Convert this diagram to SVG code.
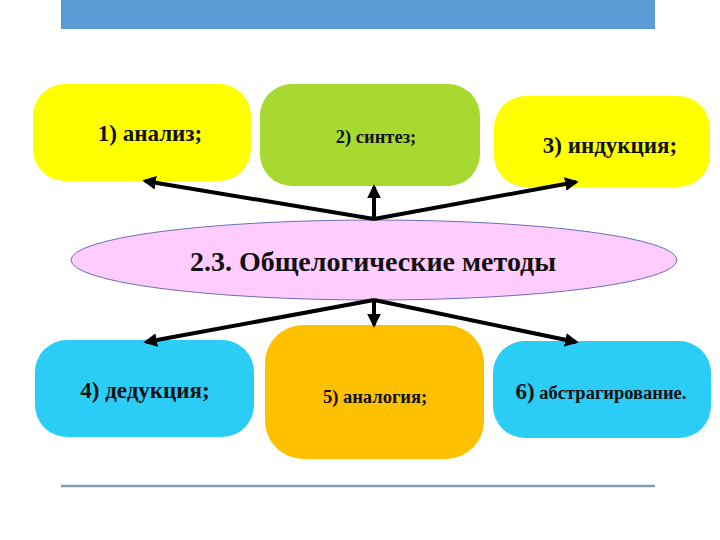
<svg xmlns="http://www.w3.org/2000/svg" width="720" height="540" viewBox="0 0 720 540">
<style>
text{font-weight:bold;fill:#111;text-anchor:middle}
.c{stroke:#000;stroke-width:4;fill:none}
</style>
<defs>
<marker id="ah" viewBox="0 0 10 10" refX="8" refY="5" markerWidth="3.4" markerHeight="3.4" orient="auto" markerUnits="strokeWidth">
<path d="M0,0 L10,5 L0,10 z" fill="#000"/>
</marker>
</defs>
<rect x="0" y="0" width="720" height="540" fill="#fff"/>
<rect x="61" y="0" width="594" height="29" fill="#5b9bd5"/>
<line x1="61" y1="486" x2="655" y2="486" stroke="#7f9db3" stroke-width="2.5"/>
<g font-family="'Liberation Serif', 'DejaVu Serif', serif">
<g id="n1"><rect x="33" y="84" width="218" height="97" rx="32" fill="#ffff00"/><text x="150" y="141" font-size="23">1) анализ;</text></g>
<g id="n2"><rect x="260" y="84" width="220" height="102" rx="32" fill="#a7d930"/><text x="376" y="143" font-size="18.5">2) синтез;</text></g>
<g id="n3"><rect x="494" y="96" width="216" height="91" rx="32" fill="#ffff00"/><text x="610" y="153" font-size="23">3) индукция;</text></g>
<g id="center"><ellipse cx="374" cy="260" rx="303" ry="40" fill="#ffccff" stroke="#6a6fb8" stroke-width="1"/><text x="373" y="271" font-size="28">2.3. Общелогические методы</text></g>
<g id="n4"><rect x="35" y="340" width="219" height="97" rx="32" fill="#2bccf5"/><text x="145" y="398" font-size="23">4) дедукция;</text></g>
<g id="n5"><rect x="265" y="325" width="219" height="134" rx="38" fill="#ffc000"/><text x="375" y="403" font-size="18.5">5) аналогия;</text></g>
<g id="n6"><rect x="493" y="341" width="218" height="97" rx="32" fill="#2bccf5"/><text x="601" y="399" font-size="18.5"><tspan font-size="23">6)</tspan> абстрагирование.</text></g>
</g>
<g id="connectors">
<line class="c" x1="374" y1="219" x2="145" y2="181" marker-end="url(#ah)"/>
<line class="c" x1="374" y1="219" x2="374" y2="187" marker-end="url(#ah)"/>
<line class="c" x1="374" y1="219" x2="576" y2="182" marker-end="url(#ah)"/>
<line class="c" x1="374" y1="300" x2="146" y2="342" marker-end="url(#ah)"/>
<line class="c" x1="374" y1="300" x2="374" y2="325" marker-end="url(#ah)"/>
<line class="c" x1="374" y1="300" x2="576" y2="342" marker-end="url(#ah)"/>
</g>
</svg>
